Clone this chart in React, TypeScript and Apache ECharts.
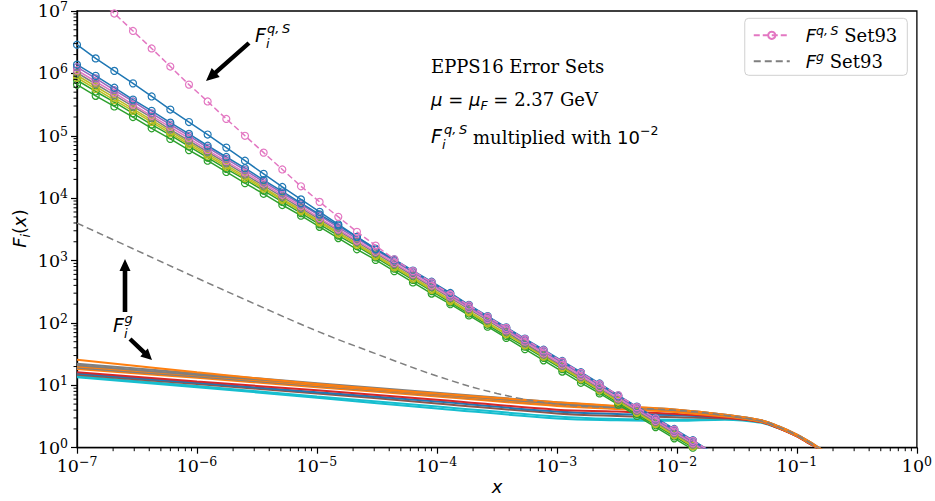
import React, { useEffect, useRef } from 'react';
import * as echarts from 'echarts';

// x grid of the F^{q,S} curves (logspace(-7, 0, 46), points up to x ~ 2e-2)
const XQ = [1.0e-7, 1.431e-7, 2.047e-7, 2.929e-7, 4.19e-7, 5.995e-7, 8.577e-7, 1.227e-6, 1.756e-6, 2.512e-6,
  3.594e-6, 5.142e-6, 7.356e-6, 1.052e-5, 1.506e-5, 2.154e-5, 3.083e-5, 4.41e-5, 6.31e-5, 9.028e-5,
  1.292e-4, 1.848e-4, 2.644e-4, 3.783e-4, 5.412e-4, 7.743e-4, 1.108e-3, 1.585e-3, 2.268e-3, 3.245e-3,
  4.642e-3, 6.642e-3, 9.502e-3, 1.359e-2, 1.945e-2];

// log10 of F_i^{q,S} x 1e-2, read at XQ
const Q_SET93 = [7.53, 7.24, 6.96, 6.68, 6.40, 6.11, 5.82, 5.55, 5.27, 5.00, 4.73, 4.46, 4.19, 3.94, 3.70, 3.46, 3.24, 3.02, 2.83, 2.65, 2.46, 2.28, 2.10, 1.92, 1.74, 1.56, 1.38, 1.20, 1.02, 0.84, 0.65, 0.47, 0.29, 0.11, -0.07];
const Q_A = [6.46, 6.24, 6.04, 5.84, 5.63, 5.42, 5.22, 5.02, 4.81, 4.60, 4.39, 4.18, 3.98, 3.78, 3.58, 3.38, 3.18, 3.02, 2.84, 2.66, 2.48, 2.29, 2.11, 1.93, 1.75, 1.57, 1.39, 1.21, 1.03, 0.84, 0.66, 0.48, 0.30, 0.12, -0.07];
const Q_B = [6.14, 5.96, 5.77, 5.58, 5.40, 5.21, 5.03, 4.84, 4.66, 4.48, 4.29, 4.11, 3.92, 3.74, 3.56, 3.38, 3.19, 3.01, 2.83, 2.65, 2.47, 2.28, 2.10, 1.92, 1.74, 1.56, 1.38, 1.20, 1.02, 0.83, 0.65, 0.47, 0.29, 0.11, -0.08];
const Q_C = [6.10, 5.92, 5.73, 5.55, 5.36, 5.18, 5.00, 4.81, 4.63, 4.45, 4.26, 4.08, 3.90, 3.72, 3.53, 3.35, 3.17, 2.99, 2.81, 2.63, 2.44, 2.26, 2.08, 1.90, 1.72, 1.54, 1.36, 1.18, 1.00, 0.82, 0.63, 0.45, 0.27, 0.09, -0.09];
const Q_D = [6.05, 5.87, 5.69, 5.50, 5.32, 5.14, 4.96, 4.77, 4.59, 4.41, 4.23, 4.05, 3.87, 3.68, 3.50, 3.32, 3.14, 2.96, 2.78, 2.60, 2.42, 2.24, 2.06, 1.88, 1.70, 1.51, 1.33, 1.15, 0.97, 0.79, 0.61, 0.43, 0.25, 0.07, -0.11];
const Q_E = [6.01, 5.83, 5.65, 5.47, 5.29, 5.10, 4.92, 4.74, 4.56, 4.38, 4.20, 4.02, 3.84, 3.66, 3.48, 3.30, 3.12, 2.94, 2.76, 2.58, 2.40, 2.22, 2.04, 1.86, 1.67, 1.49, 1.31, 1.13, 0.95, 0.77, 0.59, 0.41, 0.23, 0.05, -0.13];
const Q_F = [5.97, 5.79, 5.61, 5.43, 5.25, 5.07, 4.89, 4.71, 4.53, 4.35, 4.17, 3.99, 3.81, 3.63, 3.45, 3.27, 3.09, 2.91, 2.73, 2.55, 2.37, 2.19, 2.01, 1.83, 1.65, 1.47, 1.29, 1.11, 0.93, 0.75, 0.57, 0.39, 0.21, 0.03, -0.15];
const Q_G = [5.93, 5.75, 5.57, 5.40, 5.22, 5.04, 4.86, 4.68, 4.50, 4.32, 4.15, 3.97, 3.79, 3.61, 3.43, 3.25, 3.07, 2.89, 2.71, 2.53, 2.35, 2.17, 1.99, 1.82, 1.64, 1.46, 1.28, 1.10, 0.92, 0.74, 0.56, 0.38, 0.20, 0.02, -0.16];
const Q_H = [5.89, 5.71, 5.54, 5.36, 5.18, 5.01, 4.83, 4.65, 4.47, 4.30, 4.12, 3.94, 3.76, 3.58, 3.40, 3.23, 3.05, 2.87, 2.69, 2.51, 2.33, 2.15, 1.97, 1.79, 1.62, 1.44, 1.26, 1.08, 0.90, 0.72, 0.54, 0.36, 0.18, 0.00, -0.18];
const Q_I = [5.82, 5.64, 5.47, 5.30, 5.12, 4.95, 4.77, 4.60, 4.42, 4.24, 4.07, 3.89, 3.72, 3.54, 3.36, 3.18, 3.01, 2.83, 2.65, 2.47, 2.30, 2.12, 1.94, 1.76, 1.58, 1.40, 1.22, 1.04, 0.87, 0.69, 0.51, 0.33, 0.15, -0.03, -0.20];

// x grid of the gluon curves
const XG = [1e-7, 1e-6, 1e-5, 1e-4, 1e-3, 3.16e-3, 1e-2, 2.51e-2, 5.01e-2, 7.08e-2, 1e-1, 1.26e-1, 1.58e-1, 2.0e-1];
// log10 of F_i^g, read at XG
const G_1 = [1.41, 1.21, 1.02, 0.87, 0.73, 0.67, 0.61, 0.53, 0.44, 0.34, 0.21, 0.10, -0.02, -0.15];
const G_2 = [1.345, 1.19, 1.035, 0.88, 0.73, 0.66, 0.61, 0.53, 0.44, 0.34, 0.21, 0.10, -0.02, -0.15];
const G_3 = [1.32, 1.17, 1.02, 0.86, 0.71, 0.65, 0.60, 0.52, 0.43, 0.33, 0.20, 0.09, -0.02, -0.15];
const G_4 = [1.30, 1.16, 1.00, 0.85, 0.69, 0.63, 0.58, 0.51, 0.42, 0.32, 0.19, 0.08, -0.03, -0.16];
const G_5 = [1.28, 1.14, 0.99, 0.84, 0.69, 0.64, 0.60, 0.53, 0.44, 0.34, 0.21, 0.10, -0.02, -0.15];
const G_6 = [1.26, 1.12, 0.97, 0.82, 0.67, 0.62, 0.57, 0.50, 0.42, 0.32, 0.19, 0.08, -0.03, -0.16];
const G_7 = [1.21, 1.06, 0.92, 0.77, 0.61, 0.58, 0.54, 0.48, 0.41, 0.31, 0.18, 0.07, -0.04, -0.17];
const G_8 = [1.19, 1.04, 0.89, 0.74, 0.58, 0.54, 0.52, 0.48, 0.42, 0.32, 0.19, 0.08, -0.03, -0.16];
const G_9 = [1.17, 1.02, 0.87, 0.71, 0.55, 0.51, 0.49, 0.47, 0.41, 0.31, 0.18, 0.07, -0.04, -0.17];
const G_10 = [1.15, 0.99, 0.82, 0.66, 0.50, 0.46, 0.45, 0.46, 0.41, 0.32, 0.19, 0.08, -0.03, -0.16];
const G_11 = [1.13, 0.97, 0.80, 0.63, 0.47, 0.44, 0.43, 0.45, 0.40, 0.31, 0.19, 0.08, -0.03, -0.16];

// gluon Set93 (dashed)
const XG93 = [1e-7, 3.16e-7, 1e-6, 3.16e-6, 1e-5, 3.16e-5, 1e-4, 3.16e-4, 1e-3, 3.16e-3, 1e-2, 2.51e-2, 5.01e-2, 7.08e-2, 1e-1, 1.26e-1, 1.58e-1, 2.0e-1];
const G_SET93 = [3.60, 3.16, 2.72, 2.29, 1.87, 1.50, 1.15, 0.87, 0.70, 0.64, 0.60, 0.52, 0.43, 0.33, 0.20, 0.09, -0.03, -0.16];

// axis ticks
const X_DECADES = [1e-7, 1e-6, 1e-5, 1e-4, 1e-3, 1e-2, 1e-1];
const Y_DECADES = [1, 10, 100, 1e3, 1e4, 1e5, 1e6];
const MINOR_MULT = [2, 3, 4, 5, 6, 7, 8, 9];

const C = {
  blue: '#1f77b4', orange: '#ff7f0e', green: '#2ca02c', red: '#d62728', purple: '#9467bd',
  brown: '#8c564b', pink: '#e377c2', gray: '#7f7f7f', olive: '#bcbd22', cyan: '#17becf',
};

const pts = (xs: number[], logs: number[]) => {
  const n = Math.min(xs.length, logs.length);
  const out: number[][] = [];
  for (let i = 0; i < n; i++) out.push([xs[i], Math.pow(10, logs[i])]);
  return out;
};

const QUARK = [
  { d: Q_I, c: C.green }, { d: Q_H, c: C.green }, { d: Q_G, c: C.olive }, { d: Q_F, c: C.olive },
  { d: Q_E, c: C.gray }, { d: Q_D, c: C.pink }, { d: Q_C, c: C.purple }, { d: Q_B, c: C.blue }, { d: Q_A, c: C.blue },
];
const GLUON = [
  { d: G_11, c: C.cyan }, { d: G_10, c: C.cyan }, { d: G_9, c: C.brown }, { d: G_8, c: C.blue },
  { d: G_7, c: C.red }, { d: G_6, c: C.orange }, { d: G_5, c: C.gray }, { d: G_4, c: C.orange },
  { d: G_3, c: C.gray }, { d: G_2, c: C.gray }, { d: G_1, c: C.orange },
];

const SANS = 'DejaVu Sans';
const SERIF = 'DejaVu Serif';

const tickLabel = (v: number) => {
  const e = Math.round(Math.log10(v));
  return `{b|10}{s|${e < 0 ? '\u2212' + -e : e}}`;
};
const tickRich = {
  b: { fontFamily: SERIF, fontSize: 17.5, color: '#000', lineHeight: 22 },
  s: { fontFamily: SERIF, fontSize: 12.5, color: '#000', lineHeight: 12, verticalAlign: 'top' },
};

function arrow(points: number[][]) {
  return { type: 'polygon', shape: { points }, style: { fill: '#000' }, z: 100 };
}

export default function App() {
  const ref = useRef<HTMLDivElement>(null);
  useEffect(() => {
    document.body.style.margin = '0';
    const chart = echarts.init(ref.current!, null, { renderer: 'svg' });
    const series: any[] = [];
    GLUON.forEach((g, i) => series.push({
      type: 'line', name: 'g' + i, data: pts(XG, g.d), showSymbol: false, symbol: 'none', smooth: 0.4,
      lineStyle: { color: g.c, width: 2 }, itemStyle: { color: g.c }, z: 2, silent: true,
    }));
    series.push({
      type: 'line', name: 'Fg93', data: pts(XG93, G_SET93), showSymbol: false, symbol: 'none', smooth: 0.4,
      lineStyle: { color: C.gray, width: 1.5, type: [7, 4] }, itemStyle: { color: C.gray }, z: 3,
    });
    QUARK.forEach((q, i) => series.push({
      type: 'line', name: 'q' + i, data: pts(XQ, q.d), symbol: 'circle', symbolSize: 7, showAllSymbol: true,
      lineStyle: { color: q.c, width: 1.5 },
      itemStyle: { color: 'rgba(0,0,0,0)', borderColor: q.c, borderWidth: 1.2 }, z: 4, silent: true,
    }));
    series.push({
      type: 'line', name: 'Fq93', data: pts(XQ, Q_SET93), symbol: 'circle', symbolSize: 7, showAllSymbol: true,
      lineStyle: { color: C.pink, width: 1.5, type: [6, 3] },
      itemStyle: { color: 'rgba(0,0,0,0)', borderColor: C.pink, borderWidth: 1.2 }, z: 5,
    });
    const xMinor = X_DECADES.flatMap((d) => MINOR_MULT.map((m) => [m * d, 1]));
    const yMinor = Y_DECADES.flatMap((d) => MINOR_MULT.map((m) => [1e-7, m * d]));
    series.push({
      type: 'custom', name: 'xminor', data: xMinor, silent: true, clip: false, z: 10,
      renderItem: (_p: any, api: any) => {
        const p = api.coord([api.value(0), 1]);
        return { type: 'line', shape: { x1: p[0], y1: p[1], x2: p[0], y2: p[1] + 3.5 }, style: { stroke: '#000', lineWidth: 1 } };
      },
    });
    series.push({
      type: 'custom', name: 'yminor', data: yMinor, silent: true, clip: false, z: 10,
      renderItem: (_p: any, api: any) => {
        const p = api.coord([1e-7, api.value(1)]);
        return { type: 'line', shape: { x1: p[0] - 3.5, y1: p[1], x2: p[0], y2: p[1] }, style: { stroke: '#000', lineWidth: 1 } };
      },
    });

    chart.setOption({
      animation: false,
      backgroundColor: '#fff',
      grid: { left: 77, right: 18, top: 9.3, bottom: 53.3, show: true, borderColor: '#000', borderWidth: 1.3 },
      xAxis: {
        type: 'log', logBase: 10, min: 1e-7, max: 1,
        axisLine: { show: true, lineStyle: { color: '#000', width: 1.3 } },
        axisTick: { show: true, length: 6, lineStyle: { color: '#000', width: 1.2 } },
        splitLine: { show: false },
        axisLabel: { formatter: tickLabel, margin: 7, rich: tickRich, showMinLabel: true, showMaxLabel: true },
      },
      yAxis: {
        type: 'log', logBase: 10, min: 1, max: 1e7,
        axisLine: { show: true, lineStyle: { color: '#000', width: 1.3 } },
        axisTick: { show: true, length: 6, lineStyle: { color: '#000', width: 1.2 } },
        splitLine: { show: false },
        axisLabel: { formatter: tickLabel, margin: 9, rich: tickRich, showMinLabel: true, showMaxLabel: true },
      },
      legend: {
        data: ['Fq93', { name: 'Fg93', itemStyle: { color: 'rgba(0,0,0,0)', borderColor: 'rgba(0,0,0,0)', borderWidth: 0 } }],
        orient: 'vertical', right: 27.7, top: 18.3,
        itemWidth: 36, itemHeight: 9, itemGap: 6, padding: [6, 10, 5, 8],
        backgroundColor: 'rgba(255,255,255,0.8)', borderColor: '#d0d0d0', borderWidth: 1, borderRadius: 4,
        formatter: (n: string) => n === 'Fq93' ? '{f|F}{s|q,\u2009S}{t| Set93}' : '{f|F}{s|g}{t| Set93}',
        textStyle: {
          rich: {
            f: { fontFamily: SANS, fontStyle: 'italic', fontSize: 18, lineHeight: 22, color: '#000', padding: [0, 0, 0, 11] },
            s: { fontFamily: SANS, fontStyle: 'italic', fontSize: 12.5, lineHeight: 13, color: '#000', verticalAlign: 'top' },
            t: { fontFamily: SERIF, fontSize: 18, lineHeight: 22, color: '#000' },
          },
        },
      },
      series,
      graphic: [
        { type: 'text', x: 431, y: 66.5, z: 100, style: { text: 'EPPS16 Error Sets', fontFamily: SERIF, fontSize: 18, fill: '#000', verticalAlign: 'middle' } },
        {
          type: 'text', x: 431, y: 99, z: 100, style: {
            text: '{m|\u03bc}{e| = }{m|\u03bc}{s|F}{e| = }{t|2.37 GeV}', verticalAlign: 'middle',
            rich: {
              m: { fontFamily: SANS, fontStyle: 'italic', fontSize: 18, lineHeight: 26, fill: '#000' },
              e: { fontFamily: SANS, fontSize: 18, lineHeight: 26, fill: '#000' },
              s: { fontFamily: SANS, fontStyle: 'italic', fontSize: 12.5, lineHeight: 14, fill: '#000', verticalAlign: 'bottom' },
              t: { fontFamily: SERIF, fontSize: 18, lineHeight: 26, fill: '#000' },
            },
          },
        },
        { type: 'text', x: 431, y: 136.4, z: 100, style: { text: 'F', fontFamily: SANS, fontStyle: 'italic', fontSize: 19, fill: '#000', verticalAlign: 'middle' } },
        { type: 'text', x: 444, y: 129.5, z: 100, style: { text: 'q,\u2009S', fontFamily: SANS, fontStyle: 'italic', fontSize: 13, fill: '#000', verticalAlign: 'middle' } },
        { type: 'text', x: 442, y: 144, z: 100, style: { text: 'i', fontFamily: SANS, fontStyle: 'italic', fontSize: 13, fill: '#000', verticalAlign: 'middle' } },
        {
          type: 'text', x: 473, y: 137, z: 100, style: {
            text: '{t|multiplied with }{n|10}{p|\u22122}', verticalAlign: 'middle',
            rich: {
              t: { fontFamily: SERIF, fontSize: 18, lineHeight: 26, fill: '#000' },
              n: { fontFamily: SANS, fontSize: 18, lineHeight: 26, fill: '#000' },
              p: { fontFamily: SANS, fontSize: 12.5, lineHeight: 14, fill: '#000', verticalAlign: 'top' },
            },
          },
        },
        // F_i^{q,S} label near arrow
        { type: 'text', x: 255, y: 35, z: 100, style: { text: 'F', fontFamily: SANS, fontStyle: 'italic', fontSize: 19, fill: '#000', verticalAlign: 'middle' } },
        { type: 'text', x: 267, y: 28, z: 100, style: { text: 'q,\u2009S', fontFamily: SANS, fontStyle: 'italic', fontSize: 13, fill: '#000', verticalAlign: 'middle' } },
        { type: 'text', x: 266, y: 43.5, z: 100, style: { text: 'i', fontFamily: SANS, fontStyle: 'italic', fontSize: 13, fill: '#000', verticalAlign: 'middle' } },
        // F_i^g label
        { type: 'text', x: 113, y: 325, z: 100, style: { text: 'F', fontFamily: SANS, fontStyle: 'italic', fontSize: 19, fill: '#000', verticalAlign: 'middle' } },
        { type: 'text', x: 124.5, y: 318, z: 100, style: { text: 'g', fontFamily: SANS, fontStyle: 'italic', fontSize: 13, fill: '#000', verticalAlign: 'middle' } },
        { type: 'text', x: 124, y: 333, z: 100, style: { text: 'i', fontFamily: SANS, fontStyle: 'italic', fontSize: 13, fill: '#000', verticalAlign: 'middle' } },
        // arrows
        arrow([[247.5, 41.4], [214.3, 70.8], [211.7, 67.9], [206, 81], [219.7, 76.9], [217.2, 74.0], [250.5, 44.6]]),
        arrow([[122.7, 312], [122.7, 271], [119.5, 271], [125, 259], [130.5, 271], [127.3, 271], [127.3, 312]]),
        arrow([[131.5, 337.4], [145.6, 350.8], [147.85, 348.4], [152, 360], [140.3, 356.4], [142.5, 354.0], [128.5, 340.6]]),
        // axis titles
        { type: 'text', x: 497, y: 486, z: 100, style: { text: 'x', fontFamily: SANS, fontStyle: 'italic', fontSize: 18, fill: '#000', align: 'center', verticalAlign: 'middle' } },
        {
          type: 'text', x: 19, y: 228.5, rotation: Math.PI / 2, z: 100, style: {
            text: '{f|F}{i|i}{p|(}{f|x}{p|)}', align: 'center', verticalAlign: 'middle',
            rich: {
              f: { fontFamily: SANS, fontStyle: 'italic', fontSize: 18, lineHeight: 26, fill: '#000' },
              i: { fontFamily: SANS, fontStyle: 'italic', fontSize: 12.5, lineHeight: 14, fill: '#000', verticalAlign: 'bottom' },
              p: { fontFamily: SANS, fontSize: 18, lineHeight: 26, fill: '#000' },
            },
          },
        },
      ],
    });
    return () => chart.dispose();
  }, []);
  return <div ref={ref} style={{ width: 935, height: 501 }} />;
}
